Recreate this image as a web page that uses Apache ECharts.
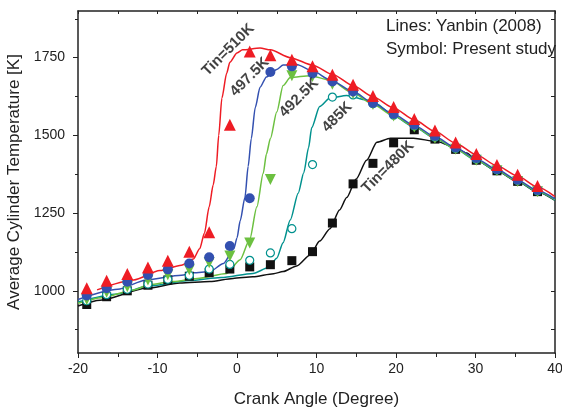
<!DOCTYPE html>
<html>
<head>
<meta charset="utf-8">
<script src="https://cdn.jsdelivr.net/npm/echarts@6/dist/echarts.min.js"></script>
<style>
html, body { margin: 0; padding: 0; background: #fff; }
#box { width: 562px; height: 410px; }
</style>
</head>
<body>
<div id="box"></div>
<script>
// crank angles of the symbols (present study)
var angles = [-18.9, -16.4, -13.8, -11.2, -8.7, -6.0, -3.5, -0.9, 1.6, 4.2, 6.9, 9.5, 12.0, 14.6, 17.1, 19.7, 22.3, 24.9, 27.5, 30.1, 32.7, 35.3, 37.8];

// symbols: temperature [K] at each angle
var sym510 = [1008, 1032, 1054, 1075, 1097, 1126, 1188, 1534, 1770, 1758, 1743, 1722, 1695, 1663, 1627, 1591, 1553, 1516, 1477, 1440, 1405, 1373, 1337];
var sym4975 = [985, 1008, 1029, 1051, 1069, 1088, 1108, 1144, 1298, 1704, 1722, 1699, 1673, 1641, 1604, 1569, 1534, 1498, 1461, 1427, 1391, 1357, 1324];
var sym4925 = [972, 995, 1013, 1035, 1052, 1068, 1090, 1112, 1154, 1358, 1692, 1689, 1664, 1635, 1599, 1562, 1527, 1491, 1455, 1420, 1386, 1352, 1319];
var sym485 = [968, 988, 1005, 1022, 1037, 1050, 1070, 1085, 1098, 1122, 1200, 1406, 1623, 1630, 1602, 1565, 1530, 1494, 1458, 1423, 1389, 1355, 1321];
var sym480 = [956, 981, 1000, 1018, 1035, 1047, 1058, 1070, 1077, 1084, 1097, 1126, 1218, 1344, 1410, 1476, 1518, 1488, 1455, 1420, 1386, 1352, 1319];

// lines: Yanbin (2008), [angle, temperature]
var line510 = [[-17.6, 1003], [-13, 1035], [-9.7, 1065], [-7, 1082], [-5.5, 1102], [-4.7, 1135], [-4.1, 1185], [-3.5, 1270],
	[-3.0, 1340], [-2.6, 1400], [-2.3, 1500], [-1.9, 1620], [-1.3, 1700], [-0.9, 1735], [0, 1765], [0.7, 1775], [2.9, 1781],
	[4.2, 1775], [6.7, 1750], [9.6, 1725], [12.1, 1695], [14.6, 1660], [17.1, 1624], [19.7, 1588], [22.3, 1550], [24.9, 1513],
	[27.5, 1475], [30.1, 1438], [32.7, 1402], [35.3, 1369], [37.8, 1334], [40, 1303]];
var line4975 = [[-20, 972], [-15, 1005], [-11.4, 1035], [-7, 1050], [-5.5, 1058], [-3.4, 1062], [-1.7, 1088], [-0.4, 1135],
	[0, 1170], [0.4, 1225], [1.0, 1300], [1.4, 1400], [1.8, 1490], [2.3, 1590], [2.9, 1655], [3.7, 1688], [5.0, 1712],
	[5.8, 1726], [7.5, 1728], [9.6, 1706], [11.7, 1679], [14.6, 1641], [17.1, 1604], [19.7, 1568], [22.3, 1532],
	[24.9, 1496], [27.5, 1460], [30.1, 1425], [32.7, 1390], [35.3, 1356], [37.8, 1323], [40, 1296]];
var line4925 = [[-20, 960], [-17, 978], [-13, 1003], [-11, 1020], [-8, 1030], [-5, 1040], [-1.3, 1056], [0.4, 1100],
	[1.6, 1165], [2.5, 1270], [3.3, 1378], [3.7, 1440], [4.2, 1490], [5.0, 1575], [5.8, 1660], [6.7, 1686], [9.2, 1692],
	[11.7, 1678], [14.6, 1636], [17.1, 1600], [19.7, 1563], [22.3, 1528], [24.9, 1492], [27.5, 1456], [30.1, 1421],
	[32.7, 1387], [35.3, 1353], [37.8, 1320], [40, 1293]];
var line485 = [[-20, 964], [-15, 990], [-11, 1016], [-6, 1033], [-2, 1043], [2, 1056], [4, 1075], [5, 1105], [5.8, 1155],
	[6.7, 1228], [7.7, 1314], [8.4, 1380], [9.0, 1460], [9.4, 1525], [10.4, 1593], [11.7, 1620], [13.8, 1628], [16.3, 1614],
	[17.5, 1602], [19.7, 1562], [22.3, 1527], [24.9, 1491], [27.5, 1455], [30.1, 1420], [32.7, 1386], [35.3, 1352],
	[37.8, 1319], [40, 1292]];
var line480 = [[-20, 951], [-17.2, 970], [-11.4, 1008], [-7.2, 1025], [-3.4, 1030], [-0.5, 1040], [2, 1045], [4.6, 1055],
	[5.8, 1062], [7.5, 1080], [9.2, 1115], [10.4, 1160], [11.7, 1200], [12.9, 1260], [13.8, 1300], [15, 1360], [16.3, 1420],
	[17.6, 1478], [19.3, 1491], [22.2, 1491], [25.1, 1480], [27.2, 1464], [28.9, 1443], [30.1, 1420], [32.7, 1385],
	[35.3, 1351], [37.8, 1318], [40, 1291]];

// curve labels
var annoText = ['Tin=510K', '497.5K', '492.5K', '485K', 'Tin=480K'];
var annoX = [-1.1, 1.6, 7.8, 12.6, 19.0];
var annoY = [1775, 1688, 1621, 1559, 1398];

var yMajor = [1000, 1250, 1500, 1750];
var yMinor = [875, 1125, 1375, 1625, 1875];
var yAll = [875, 1000, 1125, 1250, 1375, 1500, 1625, 1750, 1875];

var colRed = '#ee1c24';
var colBlue = '#3350b0';
var colGreen = '#6cc040';
var colTeal = '#00918e';
var colBlack = '#111111';
var axisCol = '#222';
var font = 'Liberation Sans, Arial, sans-serif';

function pairs(ys) {
	return angles.map(function(a, i) { return [a, ys[i]]; });
}

var chartDom = document.getElementById('box');
var myChart = echarts.init(chartDom);

function lineSeries(data, color) {
	return {
		type: 'line',
		data: data,
		showSymbol: false,
		smooth: 0.25,
		smoothMonotone: 'x',
		lineStyle: { color: color, width: 1.5 },
		z: 2
	};
}

function symSeries(ys, symbol, size, itemStyle, extra) {
	var s = {
		type: 'scatter',
		data: pairs(ys),
		symbol: symbol,
		symbolSize: size,
		itemStyle: itemStyle,
		z: 3
	};
	for (var k in extra) s[k] = extra[k];
	return s;
}

var axisLineStyle = { show: true, onZero: false, lineStyle: { color: axisCol, width: 1.5 } };

var option = {
	animation: false,
	textStyle: { fontFamily: font },
	grid: { left: 78, right: 7, top: 11, bottom: 57, containLabel: false, outerBoundsMode: 'none' },
	xAxis: [{
			type: 'value',
			min: -20,
			max: 40,
			interval: 10,
			position: 'bottom',
			axisLine: axisLineStyle,
			axisTick: { show: true, length: 5, lineStyle: { color: axisCol } },
			minorTick: { show: true, splitNumber: 2, length: 4, lineStyle: { color: axisCol } },
			axisLabel: { fontSize: 14, color: axisCol, margin: 9, fontFamily: font },
			splitLine: { show: false },
			name: 'Crank Angle (Degree)',
			nameLocation: 'middle',
			nameGap: 38,
			nameTextStyle: { fontSize: 17, color: axisCol, fontFamily: font }
		},
		{
			type: 'value',
			min: -20,
			max: 40,
			interval: 5,
			position: 'top',
			axisLine: axisLineStyle,
			axisTick: { show: true, inside: true, length: 3, lineStyle: { color: axisCol } },
			axisLabel: { show: false },
			splitLine: { show: false }
		}
	],
	yAxis: [{
			type: 'value',
			min: 800,
			max: 1900,
			position: 'left',
			axisLine: axisLineStyle,
			axisTick: { show: true, length: 5, customValues: yMajor, lineStyle: { color: axisCol } },
			axisLabel: {
				fontSize: 14,
				color: axisCol,
				margin: 13,
				customValues: yMajor,
				fontFamily: font,
				formatter: function(v) { return String(v); }
			},
			splitLine: { show: false },
			name: 'Average Cylinder Temperature [K]',
			nameLocation: 'middle',
			nameGap: 48,
			nameTextStyle: { fontSize: 17, color: axisCol, fontFamily: font }
		},
		{
			type: 'value',
			min: 800,
			max: 1900,
			position: 'left',
			axisLine: { show: false, onZero: false },
			axisTick: { show: true, length: 3, customValues: yMinor, lineStyle: { color: axisCol } },
			axisLabel: { show: false },
			splitLine: { show: false }
		},
		{
			type: 'value',
			min: 800,
			max: 1900,
			position: 'right',
			axisLine: axisLineStyle,
			axisTick: { show: true, inside: true, length: 4, customValues: yAll, lineStyle: { color: axisCol } },
			axisLabel: { show: false },
			splitLine: { show: false }
		}
	],
	series: [
		lineSeries(line480, colBlack),
		lineSeries(line485, colTeal),
		lineSeries(line4925, colGreen),
		lineSeries(line4975, colBlue),
		lineSeries(line510, colRed),
		symSeries(sym480, 'rect', 9, { color: colBlack, opacity: 1 }),
		symSeries(sym485, 'circle', 8, { color: '#fff', borderColor: colTeal, borderWidth: 1.2, opacity: 1 }),
		symSeries(sym4925, 'triangle', 11, { color: colGreen, opacity: 1 }, { symbolRotate: 180 }),
		symSeries(sym4975, 'circle', 10, { color: colBlue, opacity: 1 }),
		symSeries(sym510, 'triangle', 12, { color: colRed, opacity: 1 }),
		{
			type: 'scatter',
			data: annoText.map(function(t, i) { return [annoX[i], annoY[i], t]; }),
			symbolSize: 0,
			silent: true,
			z: 5,
			label: {
				show: true,
				position: 'inside',
				rotate: 45,
				formatter: function(p) { return p.data[2]; },
				fontSize: 15,
				fontWeight: 'bold',
				color: colBlack,
				fontFamily: font
			}
		}
	],
	graphic: [{
			type: 'text',
			left: 386,
			top: 18,
			style: { text: 'Lines: Yanbin (2008)', fontSize: 17, fill: axisCol, fontFamily: font }
		},
		{
			type: 'text',
			left: 386,
			top: 41,
			style: { text: 'Symbol: Present study', fontSize: 17, fill: axisCol, fontFamily: font }
		}
	]
};

myChart.setOption(option);
</script>
</body>
</html>
